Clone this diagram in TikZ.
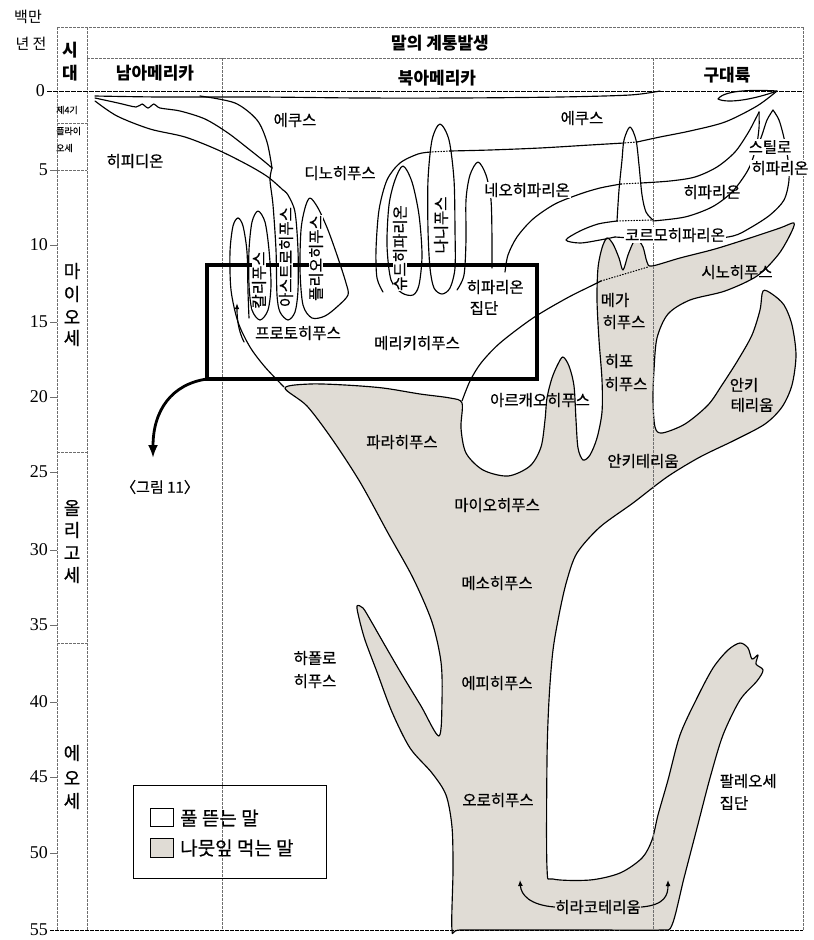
\documentclass[tikz,border=0pt]{standalone}
\usepackage{fontspec}
\setmainfont{Liberation Serif}
\newfontfamily\kr[FakeBold=0.6]{Noto Sans CJK KR}
\newfontfamily\krr{Noto Sans CJK KR}
\usetikzlibrary{arrows.meta}
\definecolor{leaf}{RGB}{224,220,213}
\definecolor{gridc}{RGB}{110,110,110}
\begin{document}
\begin{tikzpicture}[x=1pt,y=-1pt,
  gridline/.style={gridc, line width=0.5pt, dash pattern=on 2.5pt off 1.5pt},
  lin/.style={black, line width=1.15pt, line join=round, line cap=round},
  dotl/.style={black, line width=1.1pt, dash pattern=on 0.8pt off 2pt, line cap=round},
  lbl/.style={font=\kr\fontsize{15.5}{16}\selectfont, inner sep=0.5pt},
  lblw/.style={lbl, fill=white, inner sep=1pt},
  hdr/.style={font=\krr\bfseries\fontsize{17}{17}\selectfont, inner sep=0pt},
  num/.style={font=\fontsize{18}{18}\selectfont, anchor=east, inner sep=0pt},
  per/.style={font=\kr\fontsize{18}{18}\selectfont, inner sep=0pt},
  small/.style={font=\kr\fontsize{9}{9}\selectfont, inner sep=0pt, anchor=west},
  vlbl/.style={lbl, rotate=90, fill=white, inner sep=0.3pt},
  leg/.style={font=\kr\fontsize{19}{19}\selectfont, inner sep=0pt, anchor=west},
]
\useasboundingbox (0,0) rectangle (814,940);
\fill[white] (0,0) rectangle (814,940);

% ---------- browsing horses (grey body) ----------
\draw[lin, fill=leaf] plot[smooth cycle, tension=0.5] coordinates {
(452,930) (453,870) (452,827) (446,795) (432,773) (410,748) (392,712) (377,672) (365,640) (359,618) (357,606)
(363,608) (371,621) (383,642) (401,673) (421,706) (439,736) (442,700) (441,662) (432,622) (413,578) (388,533)
(360,482) (332,439) (307,406) (285,388) (310,384) (345,385) (383,388) (420,394) (450,398) (462,403)
(461,428) (466,453) (483,470) (508,476) (530,466) (541,447) (545,420) (547,398) (552,378) (558,364) (563,357)
(569,366) (574,386) (576,420) (578,448) (583,460) (590,455) (597,438) (602,412) (602,380) (599,340) (597,300)
(598,268) (602,248) (607,238) (613,244) (619,258) (623,270) (628,255) (633,243) (637,239) (643,247) (647,262)
(652,266) (680,258) (715,249) (750,238) (780,228) (794,223) (790,235) (778,255) (757,276) (725,291) (690,300)
(668,314) (657,338) (654,370) (653,400) (655,427) (662,433) (685,424) (708,405) (722,385) (738,360) (752,335)
(760,310) (763,291) (772,294) (784,305) (792,325) (796,355) (792,385) (782,407) (765,424) (735,440) (700,457)
(667,477) (633,503) (600,527) (577,553) (567,580) (560,610) (553,650) (549,700) (547,760) (547,868) (553,879)
(590,880) (620,873) (642,858) (652,840) (658,815) (668,780) (680,735) (697,698) (713,668) (728,650) (740,643)
(748,648) (752,659) (758,655) (756,664) (763,670) (757,681) (740,700) (723,735) (710,778) (697,828) (684,878)
(672,925) (660,930) (600,930) (520,930) (460,930)};

% ---------- grid ----------
\draw[gridline] (57,27) -- (803,27);
\draw[gridline] (87,58) -- (803,58);
\draw[gridline] (57,27) -- (57,930);
\draw[gridline] (87,27) -- (87,930);
\draw[gridline] (222,58) -- (222,930);
\draw[gridline] (653,58) -- (653,930);
\draw[gridline] (803,27) -- (803,930);
\draw[gridline] (57,123) -- (87,123);
\draw[gridline] (57,170) -- (87,170);
\draw[gridline] (57,452) -- (87,452);
\draw[gridline] (57,643) -- (87,643);
\draw[black, line width=0.9pt, dash pattern=on 5pt off 1pt] (47,91) -- (803,91);
\draw[black, line width=0.8pt, dash pattern=on 4pt off 1pt] (50,930) -- (803,930);
\foreach \yy in {170,245,322,397,472,550,625,702,777,853}
  \draw[gridc, line width=0.8pt] (50,\yy) -- (57,\yy);

% ---------- axis text ----------
\node[font=\krr\fontsize{15}{15}\selectfont] (u1) at (28,17) {백만};
\node[font=\krr\fontsize{15}{15}\selectfont] (u2) at (31,44) {년 전};
\node[num] (t0) at (45,91) {0};
\node[num] (t5) at (48,170) {5};
\node[num] (t10) at (48,245) {10};
\node[num] (t15) at (48,322) {15};
\node[num] (t20) at (48,397) {20};
\node[num] (t25) at (48,472) {25};
\node[num] (t30) at (48,550) {30};
\node[num] (t35) at (48,625) {35};
\node[num] (t40) at (48,702) {40};
\node[num] (t45) at (48,777) {45};
\node[num] (t50) at (48,853) {50};
\node[num] (t55) at (48,930) {55};

\node[hdr] (sd1) at (70,50) {시};
\node[hdr] (sd2) at (70,73) {대};
\node[small] (q4) at (56,110) {제4기};
\node[small] (pl1) at (56,131) {플라이};
\node[small] (pl2) at (56,148) {오세};
\node[per] (m1) at (72,271) {마};
\node[per] (m2) at (72,294) {이};
\node[per] (m3) at (72,317) {오};
\node[per] (m4) at (72,338) {세};
\node[per] (o1) at (72,508) {올};
\node[per] (o2) at (72,530) {리};
\node[per] (o3) at (72,553) {고};
\node[per] (o4) at (72,575) {세};
\node[per] (e1) at (72,753) {에};
\node[per] (e2) at (72,778) {오};
\node[per] (e3) at (72,801) {세};

\node[hdr] (title) at (440,43) {말의 계통발생};
\node[hdr] (sam) at (155,73) {남아메리카};
\node[hdr] (nam) at (437,78) {북아메리카};
\node[hdr] (ow) at (727,75) {구대륙};

% ---------- grazing lineages ----------
\draw[lin] plot[smooth] coordinates {(95,96) (160,97) (260,97) (360,98) (460,98) (560,97) (630,95) (660,91)};
\draw[lin] (777,91) .. controls (760,90) and (725,89) .. (718,99) .. controls (728,104) and (755,99) .. (777,91);
\draw[lin] plot[smooth] coordinates {(777,91) (757,106) (725,122) (690,131) (660,137) (637,142)};
\draw[dotl] (637,142) -- (624,143);
\draw[lin] plot[smooth] coordinates {(624,143) (590,145) (540,148) (490,150) (450,151)};
\draw[dotl] (450,151) -- (431,152);
\draw[lin] plot[smooth] coordinates {(431,152) (418,154) (400,163) (387,180) (379,210) (376,250) (377,278) (383,292)};

\draw[lin] plot[smooth] coordinates {(200,96) (235,103) (257,120) (267,142) (272,168)};
\draw[lin] plot[smooth] coordinates {(95,98) (118,103) (136,107) (142,104) (148,108) (154,104) (160,108) (180,111) (205,119) (228,133) (250,150) (265,162) (272,168)};
\draw[lin] plot[smooth] coordinates {(95,101) (117,116) (150,129) (185,137) (218,150) (248,165) (268,177) (283,190)};

\draw[lin] plot[smooth] coordinates {(284,387) (265,367) (250,347) (238,322) (231,290) (230,252) (233,226) (238,218) (243,226) (247,252) (248,292) (249,318)};
\draw[lin, -{Latex[length=6pt,width=4.5pt]}] (244,342) .. controls (238,330) and (237,318) .. (237,303);
\draw[lin] plot[smooth cycle] coordinates {(258,211) (265,222) (269,250) (271,285) (268,310) (260,320) (252,310) (249,285) (249,250) (252,222)};
\draw[lin] plot[smooth] coordinates {(272,168) (270,180) (273,205) (276,250) (277,295) (280,312) (288,320) (295,312) (298,290) (298,250) (295,212) (288,195) (283,190)};
\draw[lin] plot[smooth cycle] coordinates {(310,198) (318,208) (328,230) (338,258) (346,283) (348,295) (338,306) (325,316) (312,318) (303,305) (300,270) (301,230) (305,208)};
\draw[lin] plot[smooth cycle] coordinates {(403,166) (412,182) (419,215) (422,255) (419,285) (413,295) (402,293) (391,280) (387,245) (389,205) (395,180)};
\draw[lin] plot[smooth cycle] coordinates {(440,124) (449,140) (454,180) (455,230) (455,268) (450,288) (442,294) (434,288) (430,268) (428,230) (428,180) (432,140)};
\draw[lin] plot[smooth] coordinates {(457,290) (464,275) (466,240) (466,200) (470,175) (478,162) (486,175) (491,200) (492,240) (492,268)};

\draw[lin] plot[smooth] coordinates {(505,272) (508,255) (517,237) (533,219) (555,204) (580,194) (600,188) (621,184)};
\draw[dotl] (621,184) -- (641,183);
\draw[lin] plot[smooth] coordinates {(641,183) (670,181) (695,177) (717,167) (735,152) (748,133) (756,118) (759,112)};
\draw[lin] plot[smooth] coordinates {(617,221) (619,190) (622,160) (624,140) (630,127) (636,140) (639,165) (642,195) (646,212) (653,220)};
\draw[lin] plot[smooth] coordinates {(617,221) (598,224) (580,231) (566,240) (580,243) (600,240) (615,237)};
\draw[dotl] (617,221) -- (652,220);
\draw[lin] plot[smooth] coordinates {(653,221) (685,217) (712,207) (732,192) (748,170) (756,148) (759,128) (759,112)};
\draw[lin] plot[smooth] coordinates {(773,110) (767,120) (762,135) (757,148)};
\draw[lin] plot[smooth] coordinates {(773,110) (779,120) (784,138) (788,160) (789,180) (784,200) (770,215) (750,228) (733,236) (700,240) (660,240) (630,238) (615,237)};
\draw[lin] plot[smooth] coordinates {(462,401) (470,381) (481,363) (500,343) (533,318) (567,298) (593,285) (601,281)};
\draw[dotl] (601,281) -- (648,267);

% ---------- inset box and arrow ----------
\draw[line width=3.5pt] (207,265) rectangle (537,379);
\coordinate (boxc) at (207,379);
\draw[line width=2.8pt, -{Latex[length=13pt,width=10pt]}] (boxc) .. controls (172,384) and (153,410) .. (153,458);
\node[font=\kr\fontsize{15}{15}\selectfont] (fig11) at (160,487) {〈그림 11〉};

% ---------- labels ----------
\node[lbl] (hipd) at (135,161) {히피디온};
\node[lbl] (eq1) at (295,120) {에쿠스};
\node[lbl] (eq2) at (582,118) {에쿠스};
\node[lbl] (dino) at (340,173) {디노히푸스};
\node[lblw] (neoh) at (527,190) {네오히파리온};
\node[lblw] (sty1) at (770,147) {스틸로};
\node[lblw] (sty2) at (780,168) {히파리온};
\node[lbl] (hipp) at (712,192) {히파리온};
\node[lblw] (cormo) at (675,235) {코르모히파리온};
\node[vlbl] (cali) at (259,280) {칼리푸스};
\node[vlbl] (astro) at (286,257) {아스트로히푸스};
\node[vlbl] (plio) at (316,258) {플리오히푸스};
\node[vlbl] (pseu) at (400,248) {슈드히파리온};
\node[vlbl] (nann) at (441,225) {나니푸스};
\node[lbl, anchor=west] (hg1) at (466,287) {히파리온};
\node[lbl, anchor=west] (hg2) at (469,308) {집단};
\node[lbl] (proto) at (298,333) {프로토히푸스};
\node[lbl] (mery) at (417,343) {메리키히푸스};
\node[lbl] (sino) at (737,272) {시노히푸스};
\node[lbl] (mega1) at (615,300) {메가};
\node[lbl] (mega2) at (624,322) {히푸스};
\node[lbl] (hypo1) at (619,361) {히포};
\node[lbl] (hypo2) at (626,384) {히푸스};
\node[lbl] (anc1) at (744,385) {안키};
\node[lbl] (anc2) at (752,405) {테리움};
\node[lbl] (arch) at (540,400) {아르캐오히푸스};
\node[lbl] (anch) at (643,461) {안키테리움};
\node[lbl] (para) at (402,442) {파라히푸스};
\node[lbl] (mio) at (497,505) {마이오히푸스};
\node[lbl] (meso) at (497,583) {메소히푸스};
\node[lbl] (epi) at (497,683) {에피히푸스};
\node[lbl] (oro) at (498,800) {오로히푸스};
\node[lbl] (hap1) at (315,658) {하폴로};
\node[lbl] (hap2) at (315,681) {히푸스};
\node[lbl, anchor=west] (pal1) at (719,781) {팔레오세};
\node[lbl, anchor=west] (pal2) at (719,803) {집단};
\node[lbl] (hyra) at (598,907) {히라코테리움};
\draw[lin, -{Latex[length=6pt,width=5pt]}] (hyra.west) .. controls (530,905) and (521,895) .. (520,880);
\draw[lin, -{Latex[length=6pt,width=5pt]}] (hyra.east) .. controls (665,905) and (668,895) .. (668,880);

% ---------- legend ----------
\draw[line width=1pt] (133,785) rectangle (326,878);
\draw[line width=1pt, fill=white] (150,808) rectangle (173,826);
\draw[line width=1pt, fill=leaf] (150,838) rectangle (173,857);
\node[leg] (lg1) at (180,818) {풀 뜯는 말};
\node[leg] (lg2) at (180,848) {나뭇잎 먹는 말};
\end{tikzpicture}
\end{document}
